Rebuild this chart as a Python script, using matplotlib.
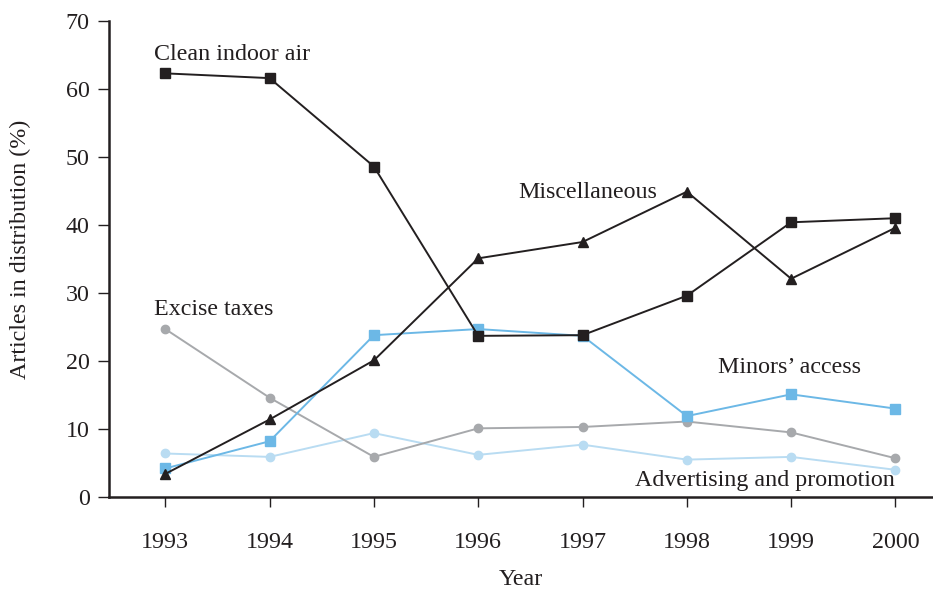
import matplotlib
matplotlib.use("Agg")
import matplotlib.pyplot as plt

years = [1993, 1994, 1995, 1996, 1997, 1998, 1999, 2000]
clean_indoor_air = [62.3, 61.6, 48.6, 23.7, 23.8, 29.6, 40.4, 41.0]
miscellaneous = [3.4, 11.4, 20.1, 35.1, 37.5, 44.9, 32.1, 39.6]
minors_access = [4.2, 8.2, 23.8, 24.7, 23.7, 11.9, 15.1, 13.0]
excise_taxes = [24.7, 14.6, 5.9, 10.1, 10.3, 11.1, 9.5, 5.7]
advertising = [6.4, 5.9, 9.4, 6.2, 7.7, 5.5, 5.9, 4.0]
yticks = [0, 10, 20, 30, 40, 50, 60, 70]

plt.rcParams['font.family'] = ['Liberation Serif', 'DejaVu Serif']
BLACK = '#231f20'
BLUE = '#6cb8e6'
GREY = '#a7a9ac'
LBLUE = '#b9dcf2'
FS = 17.3

fig = plt.figure(figsize=(9.33, 5.9), dpi=100)
ax = fig.add_axes([0.1168, 0.1576, 0.8832, 0.8068])

ax.plot(years, advertising, color=LBLUE, lw=1.4, marker='o', ms=6, mec=LBLUE, zorder=2)
ax.plot(years, excise_taxes, color=GREY, lw=1.4, marker='o', ms=6, mec=GREY, zorder=3)
ax.plot(years, minors_access, color=BLUE, lw=1.4, marker='s', ms=7, mec=BLUE, zorder=4)
ax.plot(years, miscellaneous, color=BLACK, lw=1.4, marker='^', ms=7.5, mec=BLACK, zorder=5)
ax.plot(years, clean_indoor_air, color=BLACK, lw=1.4, marker='s', ms=7, mec=BLACK, zorder=6)

ax.set_xlim(1992.46, 2000.36)
ax.set_ylim(0, 70)
ax.set_xticks(years)
ax.set_yticks(yticks)

for s in ['top', 'right']:
    ax.spines[s].set_visible(False)
for s in ['left', 'bottom']:
    ax.spines[s].set_linewidth(1.8)
    ax.spines[s].set_color(BLACK)

ax.tick_params(axis='y', direction='out', length=8, width=1, pad=6, labelsize=FS, colors=BLACK)
ax.tick_params(axis='x', direction='out', length=7.5, width=1, pad=17.5, labelsize=FS, colors=BLACK)

ax.set_xlabel('Year', fontsize=FS, color=BLACK)
ax.xaxis.set_label_coords(0.5, -0.152)
ax.set_ylabel('Articles in distribution (%)', fontsize=FS, color=BLACK)
ax.yaxis.set_label_coords(-0.095, 0.52)

tk = dict(fontsize=FS, color=BLACK, va='baseline', ha='left')
ax.text(1992.895, 64.2, 'Clean indoor air', **tk)
ax.text(1992.895, 26.8, 'Excise taxes', **tk)
ax.text(1996.387, 44.0, 'Miscellaneous', **tk)
ax.text(1998.295, 18.3, 'Minors\u2019 access', **tk)
ax.text(1997.506, 1.6, 'Advertising and promotion', **tk)

fig.savefig('out.png', dpi=100)
